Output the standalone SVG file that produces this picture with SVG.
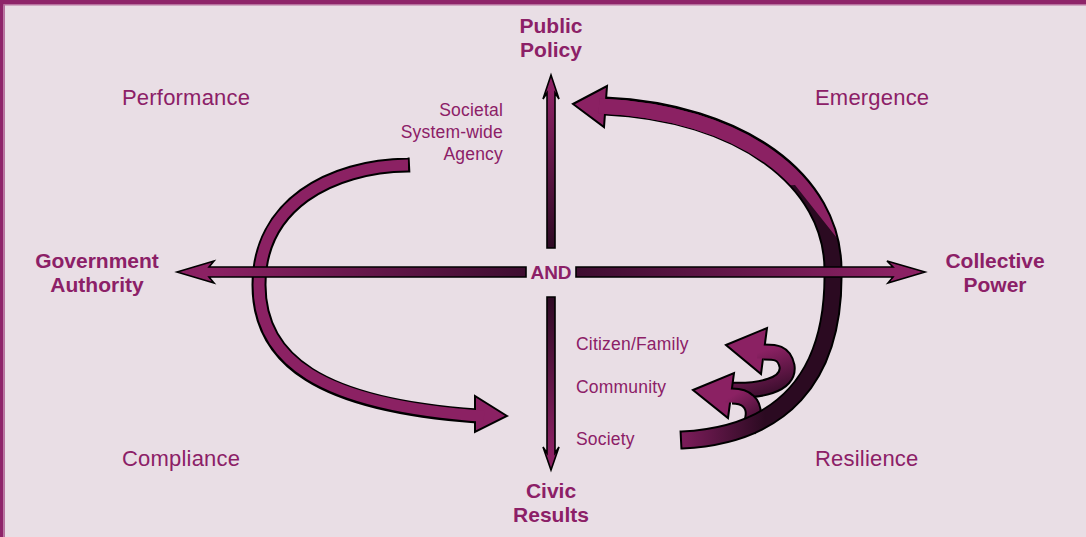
<svg xmlns="http://www.w3.org/2000/svg" width="1086" height="537" viewBox="0 0 1086 537">
  <defs>
    <style>
      .lbl { font-family: 'Liberation Sans', Arial, sans-serif; fill: #8C2067; }
      .axis { font-size: 21px; font-weight: bold; text-anchor: middle; }
      .quad { font-size: 22px; letter-spacing: 0.2px; }
      .lvl { font-size: 17.5px; letter-spacing: 0.2px; }
      .ol { fill: none; stroke: #000; stroke-linejoin: round; }
      .head { fill: #8B2163; stroke: #000; stroke-width: 2; stroke-linejoin: miter; }
      .shaft { stroke: #000; stroke-width: 1.6; stroke-linejoin: miter; }
    </style>
    <linearGradient id="gL" gradientUnits="userSpaceOnUse" x1="214" y1="0" x2="526" y2="0">
      <stop offset="0" stop-color="#8B2163"/><stop offset="1" stop-color="#3E0D30"/>
    </linearGradient>
    <linearGradient id="gR" gradientUnits="userSpaceOnUse" x1="893" y1="0" x2="576" y2="0">
      <stop offset="0" stop-color="#8B2163"/><stop offset="1" stop-color="#3E0D30"/>
    </linearGradient>
    <linearGradient id="gU" gradientUnits="userSpaceOnUse" x1="0" y1="93" x2="0" y2="248">
      <stop offset="0" stop-color="#8B2163"/><stop offset="1" stop-color="#2E0A24"/>
    </linearGradient>
    <linearGradient id="gD" gradientUnits="userSpaceOnUse" x1="0" y1="453" x2="0" y2="297">
      <stop offset="0" stop-color="#8B2163"/><stop offset="1" stop-color="#2E0A24"/>
    </linearGradient>
    <linearGradient id="gBand" gradientUnits="userSpaceOnUse" x1="684" y1="0" x2="765" y2="0">
      <stop offset="0" stop-color="#7A1C59"/><stop offset="1" stop-color="#2B0A21"/>
    </linearGradient>
    <linearGradient id="gC1" gradientUnits="userSpaceOnUse" x1="766" y1="350" x2="780" y2="392">
      <stop offset="0" stop-color="#8B2163"/><stop offset="1" stop-color="#3A0D2C"/>
    </linearGradient>
    <linearGradient id="gC2" gradientUnits="userSpaceOnUse" x1="732" y1="396" x2="752" y2="428">
      <stop offset="0" stop-color="#8B2163"/><stop offset="1" stop-color="#3A0D2C"/>
    </linearGradient>
    <clipPath id="twist">
      <polygon points="560,0 1086,0 1086,420 848,252 795,185 560,200"/>
    </clipPath>
  </defs>

  <!-- page background and frame -->
  <rect x="0" y="0" width="1086" height="537" fill="#E9DEE5"/>
  <rect x="0" y="0" width="1086" height="4" fill="#8E2469"/>
  <rect x="0" y="4" width="1086" height="1.5" fill="#B7709E"/>
  <rect x="0" y="0" width="3.5" height="537" fill="#8E2469"/>
  <rect x="3.5" y="4" width="1.5" height="533" fill="#B7709E"/>

  <g id="connectors">
    <!-- left loop: top end curving round to the arrowhead at the centre-bottom -->
    <g id="loop-left">
      <path class="ol" stroke-width="15" d="M410,164.9 L408,165 C330,166 259,205 259,285 C259,360 320,405 477,416"/>
      <polygon class="head" points="507,416 475,396 475,432"/>
      <path fill="none" stroke="#8B2163" stroke-width="11" d="M408,165 C330,166 259,205 259,285 C259,360 320,405 484,416.3"/>
    </g>

    <!-- curled arrows rising from the right band -->
    <g id="curl-upper">
      <path class="ol" stroke-width="17" d="M726,390 C760,392 790,385 787,366 C784,352 775,352 764,352"/>
      <polygon class="head" points="726,345 767,328 761,374"/>
      <path fill="none" stroke="url(#gC1)" stroke-width="13" d="M726,390 C760,392 790,385 787,366 C784,352 775,352 764,352 L757,352"/>
    </g>
    <g id="curl-lower">
      <path class="ol" stroke-width="17" d="M748,430 C754,420 756,408 748,401 C744,397 738,396 732,396"/>
      <polygon class="head" points="693,390 734,373 728,418"/>
      <path fill="none" stroke="url(#gC2)" stroke-width="13" d="M748,430 C754,420 756,408 748,401 C744,397 738,396 732,396 L725,396"/>
    </g>

    <!-- right loop: from the bottom end up and round to Public Policy -->
    <g id="loop-right">
      <path class="ol" stroke-width="19" d="M605,106 C740,112 833,180 833,270 C835,380 780,435 682,440 L680,440.1"/>
      <polygon class="head" points="573,104 607,86 604,127"/>
      <path fill="none" stroke="url(#gBand)" stroke-width="15" d="M599,106 C740,112 833,180 833,270 C835,380 780,435 682,440"/>
      <path fill="none" stroke="#8B2163" stroke-width="15" clip-path="url(#twist)" d="M599,106 C740,112 833,180 833,270"/>
    </g>

    <!-- axes -->
    <polygon id="axis-left" class="shaft" fill="url(#gL)" points="177,272 214,261 209,267 526,267 526,277 209,277 214,283"/>
    <polygon id="axis-right" class="shaft" fill="url(#gR)" points="576,267 893,267 887,261 925,272 888,283 893,277 576,277"/>
    <polygon id="axis-up" class="shaft" fill="url(#gU)" points="551,75 559,99 555,93 555,248 547,248 547,93 543,99"/>
    <polygon id="axis-down" class="shaft" fill="url(#gD)" points="547,297 555,297 555,453 559,447 551,470 543,447 547,453"/>
  </g>

  <g id="node-and">
    <text class="lbl axis" x="551" y="279" style="font-size:19px">AND</text>
  </g>
  <g id="node-public-policy">
    <text class="lbl axis" x="551" y="33">Public</text>
    <text class="lbl axis" x="551" y="57">Policy</text>
  </g>
  <g id="node-civic-results">
    <text class="lbl axis" x="551" y="498">Civic</text>
    <text class="lbl axis" x="551" y="522">Results</text>
  </g>
  <g id="node-government-authority">
    <text class="lbl axis" x="97" y="268">Government</text>
    <text class="lbl axis" x="97" y="292">Authority</text>
  </g>
  <g id="node-collective-power">
    <text class="lbl axis" x="995" y="268">Collective</text>
    <text class="lbl axis" x="995" y="292">Power</text>
  </g>

  <g id="node-performance"><text class="lbl quad" x="122" y="105">Performance</text></g>
  <g id="node-emergence"><text class="lbl quad" x="815" y="105">Emergence</text></g>
  <g id="node-compliance"><text class="lbl quad" x="122" y="466">Compliance</text></g>
  <g id="node-resilience"><text class="lbl quad" x="815" y="466">Resilience</text></g>

  <g id="node-agency">
    <text class="lbl lvl" x="503" y="116" text-anchor="end">Societal</text>
    <text class="lbl lvl" x="503" y="138" text-anchor="end">System-wide</text>
    <text class="lbl lvl" x="503" y="160" text-anchor="end">Agency</text>
  </g>
  <g id="node-levels">
    <text class="lbl lvl" x="576" y="350">Citizen/Family</text>
    <text class="lbl lvl" x="576" y="393">Community</text>
    <text class="lbl lvl" x="576" y="445">Society</text>
  </g>
</svg>
